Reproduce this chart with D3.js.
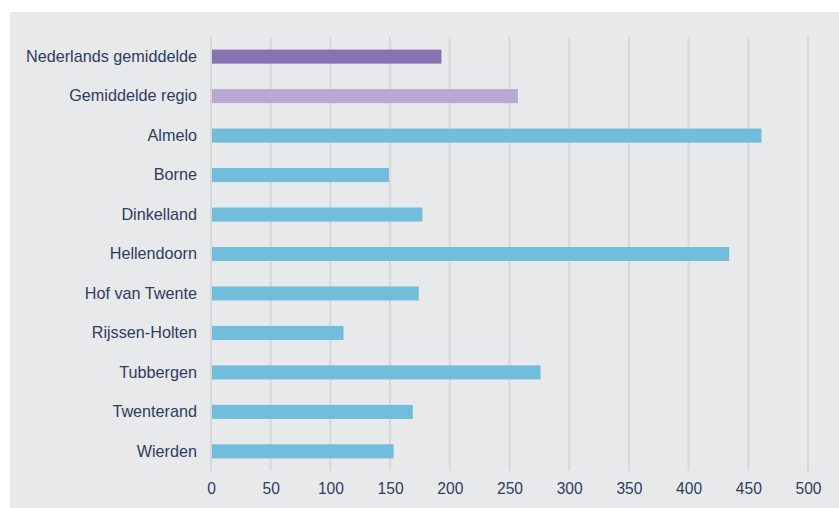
<!DOCTYPE html>
<html><head><meta charset="utf-8">
<script src="https://cdn.jsdelivr.net/npm/d3@7"></script>
<style>
html,body{margin:0;padding:0;background:#fff;}
svg{display:block;}
text{font-family:"Liberation Sans",Arial,sans-serif;}
</style></head>
<body>
<script>
const categories = ["Nederlands gemiddelde","Gemiddelde regio","Almelo","Borne","Dinkelland","Hellendoorn","Hof van Twente","Rijssen-Holten","Tubbergen","Twenterand","Wierden"];
const values = [193, 257, 461, 149, 177, 434, 174, 111, 276, 169, 153];
const groups = ["nl","regio","gem","gem","gem","gem","gem","gem","gem","gem","gem"];
const tickValues = [0,50,100,150,200,250,300,350,400,450,500];
const colors = {nl:"#8871b1", regio:"#b9a9d2", gem:"#72bcdc"};

const W = 839, H = 508;
const svg = d3.select("body").append("svg").attr("width", W).attr("height", H);
svg.append("rect").attr("x",10).attr("y",12).attr("width",W-10).attr("height",H-12).attr("fill","#e8e9eb");

const x = d3.scaleLinear().domain([0,500]).range([211,808]);
const y = d3.scaleBand().domain(categories).range([37, 471]).paddingInner(0.645).paddingOuter(0.32);

// grid
svg.append("g").selectAll("line").data(tickValues).join("line")
  .attr("x1",d=>x(d)).attr("x2",d=>x(d)).attr("y1",37).attr("y2",471)
  .attr("stroke","#d7d8da").attr("stroke-width",2);

// bars
svg.append("g").selectAll("rect").data(categories).join("rect")
  .attr("x", x(0)+1)
  .attr("y", d=>y(d))
  .attr("width", (d,i)=>x(values[i])-x(0)-1)
  .attr("height", y.bandwidth())
  .attr("fill", (d,i)=>colors[groups[i]]);

// y axis labels
const yAxis = d3.axisLeft(y).tickSize(0).tickPadding(14);
const gy = svg.append("g").attr("transform",`translate(${x(0)},0)`).call(yAxis);
gy.select(".domain").remove();
gy.selectAll("text").attr("fill","#2e3d62").style("font-size","16.2px").style("font-family","'Liberation Sans',Arial,sans-serif");

// x axis
const xAxis = d3.axisBottom(x).tickValues(tickValues).tickSize(0).tickPadding(0);
const gx = svg.append("g").attr("transform",`translate(0,483)`).call(xAxis);
gx.select(".domain").remove();
gx.selectAll("text").attr("fill","#2e3d62").attr("dy","0.71em").style("font-size","15.6px").style("font-family","'Liberation Sans',Arial,sans-serif");
</script>
</body></html>
